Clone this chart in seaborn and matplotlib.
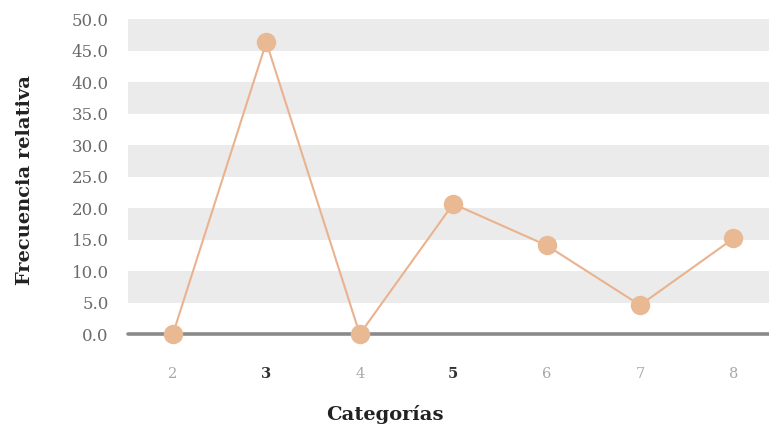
import matplotlib
matplotlib.use("Agg")
import matplotlib.pyplot as plt
import seaborn as sns
import pandas as pd
import numpy as np

# Relative frequency (%) per category
categories = [2, 3, 4, 5, 6, 7, 8]
rel_freq = [0.0, 46.4, 0.0, 20.7, 14.1, 4.6, 15.2]
highlighted = [3, 5]
y_ticks = [0, 5, 10, 15, 20, 25, 30, 35, 40, 45, 50]

sns.set_theme(style="white")
plt.rcParams["font.family"] = ["DejaVu Serif"]

df = pd.DataFrame({"Categoría": categories, "Frecuencia": rel_freq})

fig = plt.figure(figsize=(7.69, 4.30), dpi=100)
ax = fig.add_axes([0.1665, 0.223, 0.8335, 0.7317])

line_col = "#eab28e"
marker_col = "#e9b994"

# alternating horizontal bands (gray between 5-10, 15-20, ...)
for lo, hi in zip(y_ticks[1::2], y_ticks[2::2]):
    ax.axhspan(lo, hi, color="#ebebeb", lw=0, zorder=0)

sns.lineplot(data=df, x="Categoría", y="Frecuencia", ax=ax, color=line_col,
             linewidth=1.5, marker="o", markersize=14, markerfacecolor=marker_col,
             markeredgewidth=0, zorder=3, clip_on=False)

ax.axhline(0, color="#8a8a8a", lw=2.6, zorder=2, clip_on=False)

ax.set_xlim(1.52, 8.38)
ax.set_ylim(0, 50)
ax.set_yticks(y_ticks)
ax.set_yticklabels([f"{v:.1f}" for v in y_ticks], fontsize=12, color="#6a6a6a")
ax.set_xticks(categories)
ax.set_xticklabels([str(c) for c in categories], fontsize=10.5)
for lbl, c in zip(ax.get_xticklabels(), categories):
    if c in highlighted:
        lbl.set_fontweight("bold")
        lbl.set_color("#333333")
    else:
        lbl.set_color("#a8a8a8")
ax.tick_params(axis="y", length=0, pad=14)
ax.tick_params(axis="x", length=0, pad=24)

for s in ax.spines.values():
    s.set_visible(False)

ax.set_xlabel("")
ax.set_ylabel("")
fig.text(0.5, 0.035, "Categorías", ha="center", va="center", fontsize=14,
         fontweight="bold", color="#222222")
fig.text(0.033, 0.582, "Frecuencia relativa", ha="center", va="center",
         rotation=90, fontsize=14, fontweight="bold", color="#222222")

fig.savefig("out.png", dpi=100)
